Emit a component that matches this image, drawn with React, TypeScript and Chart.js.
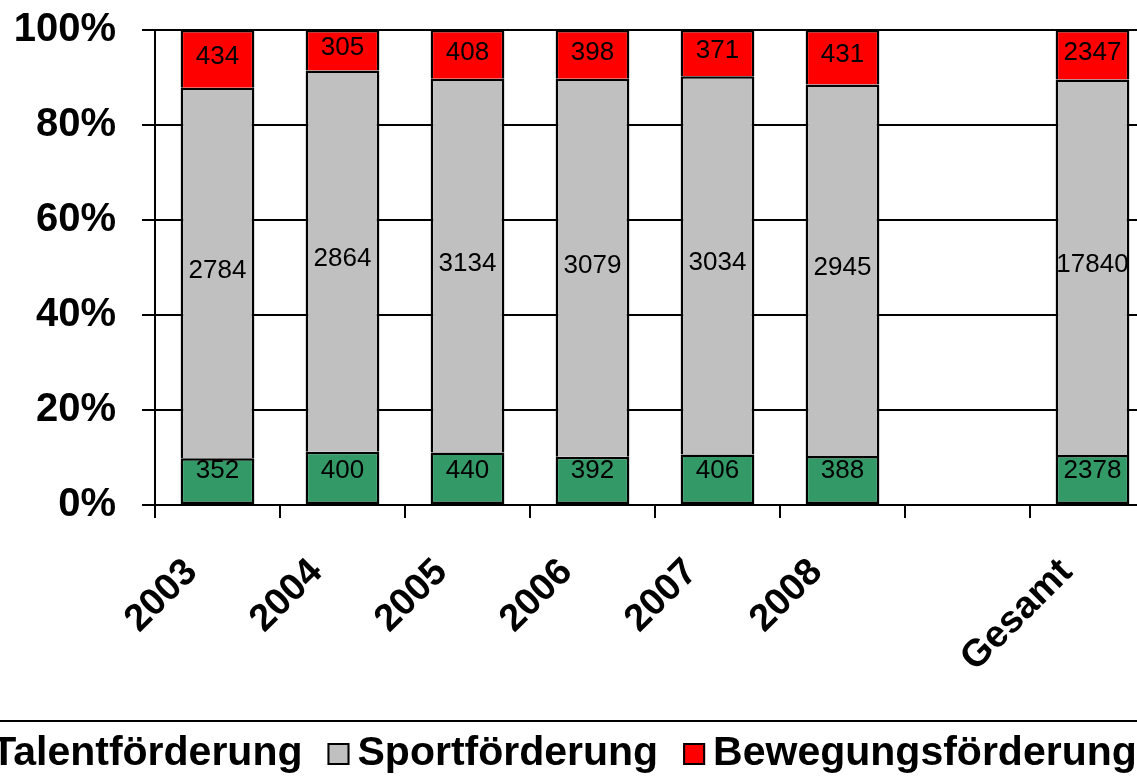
import React, { useEffect, useRef } from 'react';
import { Chart, registerables } from 'chart.js';

Chart.register(...registerables);

// ---- data ----
const categories = ['2003', '2004', '2005', '2006', '2007', '2008', '', 'Gesamt'];
const talentCounts = [352, 400, 440, 392, 406, 388, null, 2378];
const sportCounts = [2784, 2864, 3134, 3079, 3034, 2945, null, 17840];
const bewegungCounts = [434, 305, 408, 398, 371, 431, null, 2347];
const seriesNames = ['Talentförderung', 'Sportförderung', 'Bewegungsförderung'];
const seriesColors = ['#339966', '#C0C0C0', '#FF0000'];
const yTickValues = [0, 20, 40, 60, 80, 100];

const FONT = '"Liberation Sans", Arial, Helvetica, sans-serif';

const CANVAS_W = 1298;
const CANVAS_H = 800;
const SHIFT_X = 100;

function toShare(series: (number | null)[]): (number | null)[] {
  return series.map((v, i) => {
    const t = talentCounts[i];
    const s = sportCounts[i];
    const b = bewegungCounts[i];
    if (v == null || t == null || s == null || b == null) return null;
    return (v / (t + s + b)) * 100;
  });
}

const segmentLabels = {
  id: 'segmentLabels',
  afterDatasetsDraw(chart: any) {
    const ctx = chart.ctx;
    const axisBottom = chart.chartArea.bottom;
    ctx.save();
    ctx.font = `26px ${FONT}`;
    ctx.fillStyle = '#000';
    ctx.textAlign = 'center';
    ctx.textBaseline = 'middle';
    chart.data.datasets.forEach((ds: any, di: number) => {
      const meta = chart.getDatasetMeta(di);
      meta.data.forEach((el: any, i: number) => {
        const raw = ds.counts[i];
        if (raw == null) return;
        const { x, y, base } = el.getProps(['x', 'y', 'base'], true);
        const ty = Math.min((y + base) / 2 - 2, axisBottom - 34);
        ctx.fillText(String(raw), x, ty);
      });
    });
    ctx.restore();
  },
};

const framedLegend = {
  id: 'framedLegend',
  afterDraw(chart: any) {
    const ctx = chart.ctx;
    const xs = chart.scales.x;
    const top = xs.bottom + 21;
    ctx.save();
    ctx.strokeStyle = '#000';
    ctx.lineWidth = 2;
    ctx.strokeRect(2, top, chart.width - 4, chart.height - top + 40);
    ctx.font = `bold 41px ${FONT}`;
    const box = 22;
    const gapBox = 8;
    const gapItem = 25;
    const items = chart.data.datasets.map((ds: any) => ({
      text: ds.label,
      color: ds.backgroundColor,
      w: ctx.measureText(ds.label).width,
    }));
    const total =
      items.reduce((a: number, it: any) => a + box + gapBox + it.w, 0) + gapItem * (items.length - 1);
    let x = chart.width / 2 - total / 2;
    const baseline = top + 44;
    ctx.textAlign = 'left';
    ctx.textBaseline = 'alphabetic';
    items.forEach((it: any) => {
      ctx.fillStyle = it.color;
      ctx.fillRect(x, top + 22, box, box);
      ctx.strokeStyle = '#000';
      ctx.lineWidth = 2;
      ctx.strokeRect(x + 1, top + 23, box - 2, box - 2);
      ctx.fillStyle = '#000';
      ctx.fillText(it.text, x + box + gapBox, baseline);
      x += box + gapBox + it.w + gapItem;
    });
    ctx.restore();
  },
};

export default function App() {
  const ref = useRef<HTMLCanvasElement | null>(null);

  useEffect(() => {
    if (!ref.current) return;
    const countsList = [talentCounts, sportCounts, bewegungCounts];
    const chart = new Chart(ref.current, {
      type: 'bar',
      data: {
        labels: categories,
        datasets: countsList.map((counts, i) => ({
          label: seriesNames[i],
          data: toShare(counts),
          counts,
          backgroundColor: seriesColors[i],
          borderColor: '#000',
          borderWidth: 2.5,
          borderSkipped: i === 0 ? false : 'bottom',
          barPercentage: 0.59,
          categoryPercentage: 1.0,
        })) as any,
      },
      options: {
        responsive: false,
        animation: false,
        devicePixelRatio: 1,
        layout: { padding: { top: 30, right: CANVAS_W - SHIFT_X - 1155, bottom: 100, left: 0 } },
        plugins: {
          legend: { display: false },
          tooltip: { enabled: false },
        },
        scales: {
          x: {
            stacked: true,
            offset: true,
            grid: {
              display: true,
              drawOnChartArea: false,
              drawTicks: true,
              tickLength: 13,
              color: '#000',
              lineWidth: 2,
              offset: true,
            },
            border: { display: true, color: '#000', width: 2 },
            ticks: {
              autoSkip: false,
              minRotation: 45,
              maxRotation: 45,
              labelOffset: -26,
              padding: 32,
              color: '#000',
              font: { family: FONT, size: 38, weight: 'bold' },
            },
            afterFit: (s: any) => {
              s.height = 195;
              s.paddingLeft = 0;
              s.paddingRight = 0;
            },
          },
          y: {
            stacked: true,
            min: 0,
            max: 100,
            grid: {
              color: '#000',
              lineWidth: 2,
              drawTicks: true,
              tickLength: 13,
            },
            border: { display: true, color: '#000', width: 2 },
            ticks: {
              padding: 26,
              color: '#000',
              font: { family: FONT, size: 40, weight: 'bold' },
              callback: (v: any) => `${v}%`,
            },
            afterBuildTicks: (s: any) => {
              s.ticks = yTickValues.map((v) => ({ value: v }));
            },
            afterFit: (s: any) => {
              s.width = SHIFT_X + 155;
              s.paddingTop = 0;
              s.paddingBottom = 0;
            },
          },
        },
      },
      plugins: [segmentLabels, framedLegend],
    });
    return () => chart.destroy();
  }, []);

  return (
    <div
      style={{
        position: 'fixed',
        left: 0,
        top: 0,
        width: 1137,
        height: 778,
        overflow: 'hidden',
        background: '#fff',
      }}
    >
      <canvas
        ref={ref}
        width={CANVAS_W}
        height={CANVAS_H}
        style={{ position: 'absolute', left: -SHIFT_X, top: 0, width: CANVAS_W, height: CANVAS_H }}
      />
    </div>
  );
}
